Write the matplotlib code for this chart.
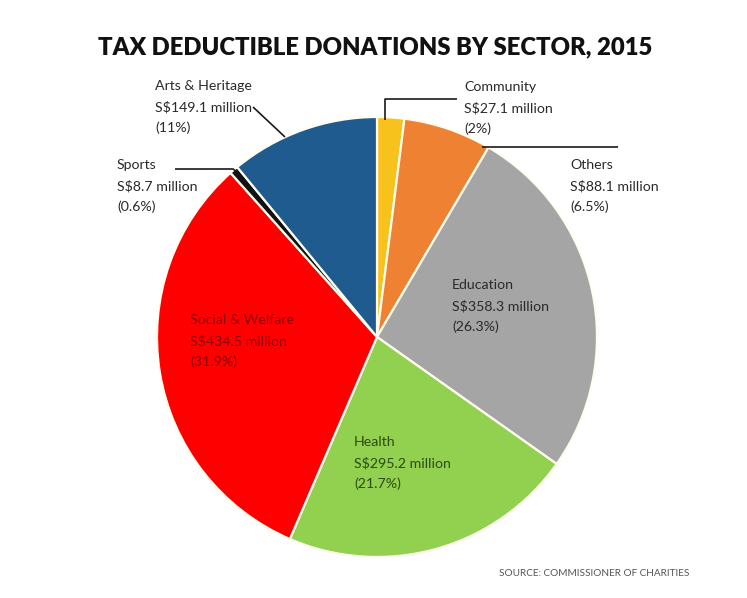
import matplotlib
matplotlib.use("Agg")
import matplotlib.pyplot as plt

# ---- data ----
sectors = ["Community", "Others", "Education", "Health", "Social & Welfare", "Sports", "Arts & Heritage"]
amounts = [27.1, 88.1, 358.3, 295.2, 434.5, 8.7, 149.1]          # S$ million
pct_labels = ["2%", "6.5%", "26.3%", "21.7%", "31.9%", "0.6%", "11%"]
colors = ["#F7C21B", "#EE8232", "#A5A5A5", "#92D050", "#FF0000", "#111111", "#1F5B8E"]
title = "TAX DEDUCTIBLE DONATIONS BY SECTOR, 2015"
source = "SOURCE: COMMISSIONER OF CHARITIES"

W, H = 747, 598
fig = plt.figure(figsize=(W / 100, H / 100), dpi=100)
ax = fig.add_axes([0, 0, 1, 1])
ax.set_xlim(0, W)
ax.set_ylim(0, H)
ax.set_aspect("equal")
ax.axis("off")

def Y(py):
    return H - py

FONT = ["Lato", "DejaVu Sans"]

cx, cy, R = 377, 337, 220
ax.pie(amounts, colors=colors, startangle=90, counterclock=False,
       center=(cx, Y(cy)), radius=R, frame=True,
       wedgeprops=dict(edgecolor="#FFFDF0", linewidth=1.6))
ax.set_xlim(0, W)
ax.set_ylim(0, H)
ax.axis("off")

ax.text(375, Y(47), title, ha="center", va="center", fontsize=17.2,
        fontweight="heavy", family=FONT, color="#111111")

# label anchor (left x, first-line y) in pixel coords and text colours
label_pos = {
    "Community": (464, 87),
    "Others": (570, 165),
    "Education": (452, 285),
    "Health": (354, 442),
    "Social & Welfare": (190, 320),
    "Sports": (117, 165),
    "Arts & Heritage": (155, 86),
}
label_col = {
    "Community": "#2a2a2a", "Others": "#2a2a2a", "Education": "#2a2a2a",
    "Health": "#2E4A12", "Social & Welfare": "#8E0000",
    "Sports": "#2a2a2a", "Arts & Heritage": "#2a2a2a",
}
step = 21
for name, amt, pct in zip(sectors, amounts, pct_labels):
    x0, y0 = label_pos[name]
    lines = [name, f"S${amt} million", f"({pct})"]
    for i, s in enumerate(lines):
        ax.text(x0, Y(y0 + i * step), s, ha="left", va="center",
                fontsize=10.2, family=FONT, color=label_col[name])

# leader lines (pixel coords)
lk = dict(color="#1a1a1a", linewidth=1.2, solid_capstyle="butt")
ax.plot([457, 385, 385], [Y(99), Y(99), Y(120)], **lk)          # Community
ax.plot([482, 618], [Y(147), Y(147)], **lk)                      # Others
ax.plot([253, 285], [Y(107), Y(137)], **lk)                      # Arts & Heritage
ax.plot([175, 233, 237], [Y(169), Y(169), Y(172)], **lk)         # Sports

ax.text(689, Y(573), source, ha="right", va="center", fontsize=7.2,
        family=FONT, color="#555555")

fig.savefig("out.png", dpi=100, facecolor="white")
